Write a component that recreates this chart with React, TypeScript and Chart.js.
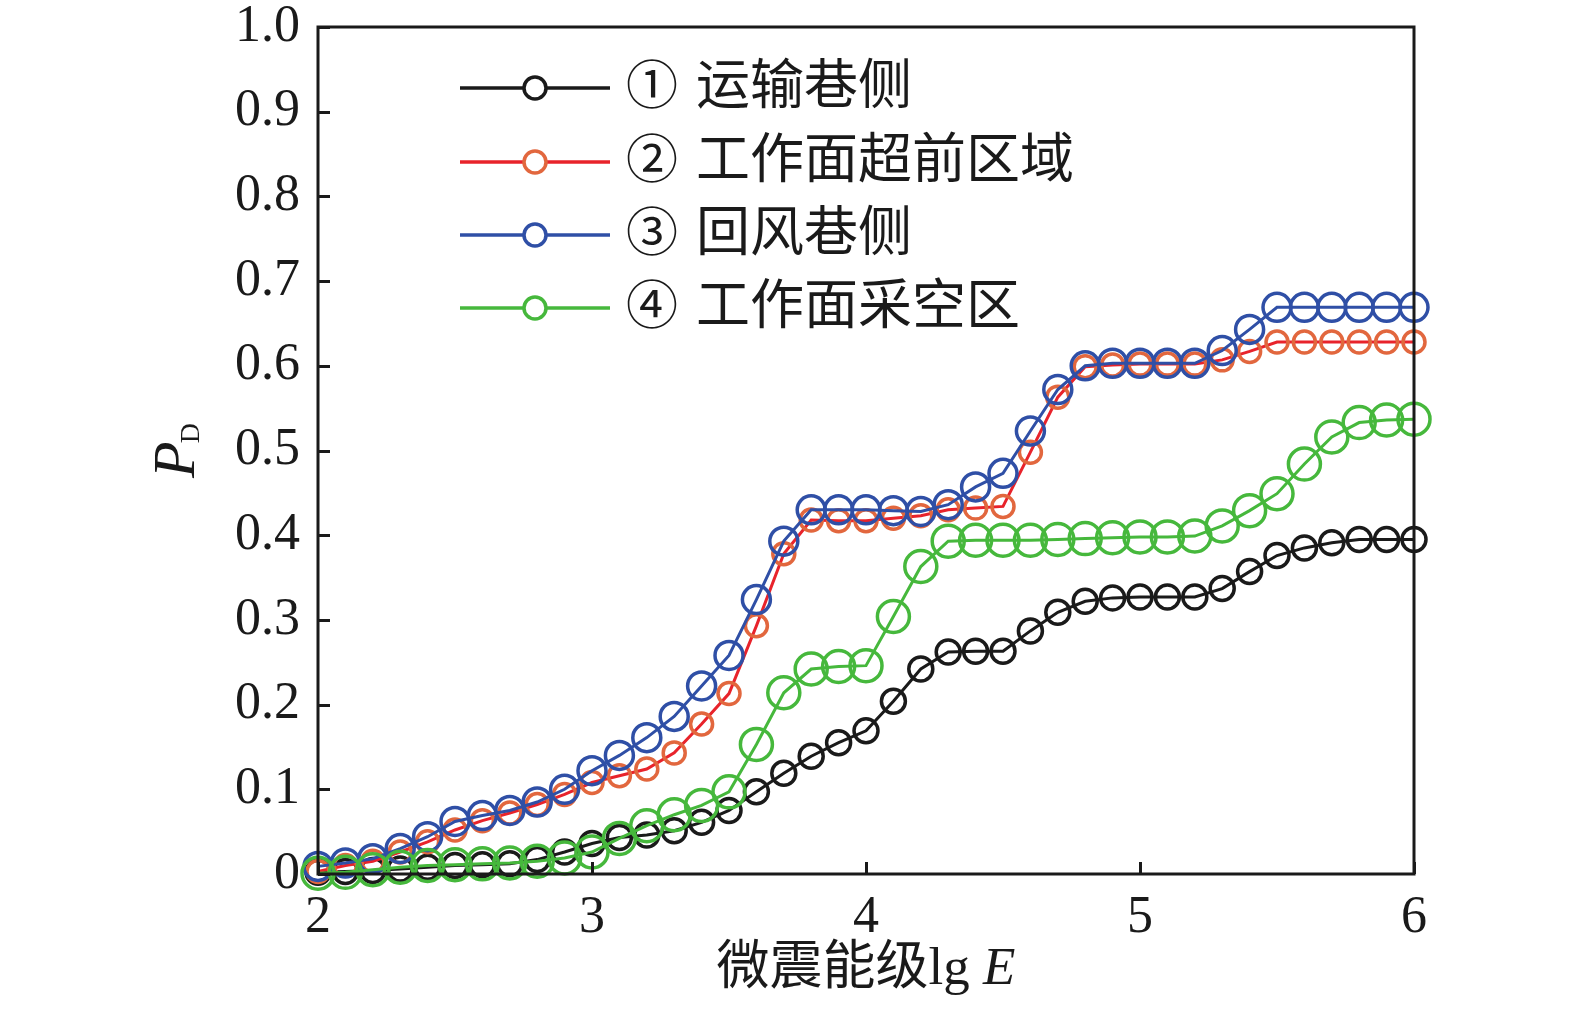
import React, { useEffect, useRef } from 'react';
import { Chart, registerables } from 'chart.js';

Chart.register(...registerables);

// ---- data ----
const lgE = [
  2.0, 2.1, 2.2, 2.3, 2.4, 2.5, 2.6, 2.7, 2.8, 2.9,
  3.0, 3.1, 3.2, 3.3, 3.4, 3.5, 3.6, 3.7, 3.8, 3.9,
  4.0, 4.1, 4.2, 4.3, 4.4, 4.5, 4.6, 4.7, 4.8, 4.9,
  5.0, 5.1, 5.2, 5.3, 5.4, 5.5, 5.6, 5.7, 5.8, 5.9, 6.0,
];

const seriesNames = ['运输巷侧', '工作面超前区域', '回风巷侧', '工作面采空区'];
const seriesMarks = ['①', '②', '③', '④'];

const transportSide = [
  0.002, 0.003, 0.004, 0.006, 0.008, 0.010, 0.011, 0.012, 0.017, 0.026,
  0.036, 0.043, 0.046, 0.051, 0.061, 0.075, 0.097, 0.119, 0.139, 0.155,
  0.169, 0.204, 0.242, 0.262, 0.263, 0.263, 0.287, 0.309, 0.322, 0.326,
  0.327, 0.327, 0.327, 0.337, 0.357, 0.376, 0.385, 0.391, 0.395, 0.395, 0.395,
];

const faceAhead = [
  0.003, 0.010, 0.015, 0.026, 0.038, 0.052, 0.063, 0.072, 0.082, 0.094,
  0.108, 0.116, 0.124, 0.143, 0.177, 0.213, 0.293, 0.378, 0.418, 0.417,
  0.417, 0.420, 0.423, 0.430, 0.432, 0.434, 0.498, 0.563, 0.599, 0.601,
  0.602, 0.602, 0.602, 0.607, 0.617, 0.628, 0.628, 0.628, 0.628, 0.628, 0.628,
];

const returnSide = [
  0.009, 0.013, 0.018, 0.030, 0.044, 0.062, 0.069, 0.075, 0.085, 0.100,
  0.122, 0.140, 0.161, 0.186, 0.222, 0.258, 0.324, 0.393, 0.430, 0.430,
  0.430, 0.429, 0.428, 0.436, 0.457, 0.473, 0.523, 0.572, 0.600, 0.603,
  0.603, 0.603, 0.603, 0.618, 0.643, 0.669, 0.669, 0.669, 0.669, 0.669, 0.669,
];

const goaf = [
  0.001, 0.002, 0.005, 0.008, 0.010, 0.011, 0.012, 0.013, 0.015, 0.019,
  0.026, 0.042, 0.057, 0.070, 0.081, 0.097, 0.153, 0.214, 0.242, 0.245,
  0.246, 0.304, 0.363, 0.393, 0.394, 0.394, 0.394, 0.395, 0.396, 0.397,
  0.398, 0.398, 0.399, 0.411, 0.429, 0.449, 0.484, 0.516, 0.533, 0.536, 0.537,
];

const yTickValues = [0, 0.1, 0.2, 0.3, 0.4, 0.5, 0.6, 0.7, 0.8, 0.9, 1.0];
const yTickLabels = ['0', '0.1', '0.2', '0.3', '0.4', '0.5', '0.6', '0.7', '0.8', '0.9', '1.0'];
const xTickValues = [2, 3, 4, 5, 6];
const xTickLabels = ['2', '3', '4', '5', '6'];

// ---- styles ----
const INK = '#1a1a1a';
const lineColors = ['#1a1a1a', '#e8232b', '#2f4fa6', '#46b83c'];
const markerColors = ['#1a1a1a', '#e2673e', '#2f4fa6', '#46b83c'];
const markerRadii = [12, 11, 14, 16];
const SERIF = '"Liberation Serif", "Noto Sans CJK SC", serif';
const CJK = '"Liberation Serif", "Noto Sans CJK SC", sans-serif';

const decorPlugin = {
  id: 'decor',
  afterDraw(chart: any) {
    const { ctx, chartArea: a, scales } = chart;
    ctx.save();
    // frame
    ctx.strokeStyle = INK;
    ctx.lineWidth = 3;
    ctx.strokeRect(a.left, a.top, a.right - a.left, a.bottom - a.top);
    // inward ticks
    ctx.lineWidth = 3;
    ctx.beginPath();
    yTickValues.forEach((v) => {
      const y = Math.round(scales.y.getPixelForValue(v)) + 0.5;
      ctx.moveTo(a.left, y);
      ctx.lineTo(a.left + 12, y);
    });
    xTickValues.forEach((v) => {
      const x = Math.round(scales.x.getPixelForValue(v)) + 0.5;
      ctx.moveTo(x, a.bottom);
      ctx.lineTo(x, a.bottom - 12);
    });
    ctx.stroke();

    // legend
    const rowY = [88, 162, 235, 308];
    seriesNames.forEach((name, i) => {
      const y = rowY[i];
      ctx.strokeStyle = lineColors[i];
      ctx.lineWidth = 3.5;
      ctx.beginPath();
      ctx.moveTo(460, y);
      ctx.lineTo(610, y);
      ctx.stroke();
      ctx.beginPath();
      ctx.arc(535, y, 11, 0, Math.PI * 2);
      ctx.fillStyle = '#ffffff';
      ctx.fill();
      ctx.strokeStyle = markerColors[i];
      ctx.lineWidth = 3.5;
      ctx.stroke();
      ctx.fillStyle = INK;
      ctx.textBaseline = 'middle';
      ctx.textAlign = 'left';
      ctx.font = `52px ${CJK}`;
      ctx.fillText(seriesMarks[i], 626, y + 2);
      ctx.font = `54px ${CJK}`;
      ctx.fillText(name, 696, y + 2);
    });

    // x title: 微震能级lg E
    ctx.fillStyle = INK;
    ctx.textBaseline = 'middle';
    ctx.textAlign = 'left';
    const part1 = '微震能级lg ';
    const part2 = 'E';
    ctx.font = `53px ${CJK}`;
    const w1 = ctx.measureText(part1).width;
    ctx.font = `italic 53px ${SERIF}`;
    const w2 = ctx.measureText(part2).width;
    const cx = (a.left + a.right) / 2;
    const startX = cx - (w1 + w2) / 2;
    ctx.font = `53px ${CJK}`;
    ctx.fillText(part1, startX, 970);
    ctx.font = `italic 53px ${SERIF}`;
    ctx.fillText(part2, startX + w1, 970);

    // y title: P_D (rotated)
    ctx.save();
    ctx.translate(194, 478);
    ctx.rotate(-Math.PI / 2);
    ctx.textBaseline = 'alphabetic';
    ctx.font = `italic 60px ${SERIF}`;
    ctx.fillText('P', 0, 0);
    const wp = ctx.measureText('P').width;
    ctx.font = `28px ${SERIF}`;
    ctx.fillText('D', wp - 2, 5);
    ctx.restore();

    ctx.restore();
  },
};

export default function App() {
  const canvasRef = useRef<HTMLCanvasElement | null>(null);

  useEffect(() => {
    document.body.style.margin = '0';
    const canvas = canvasRef.current;
    if (!canvas) return;
    const seriesValues = [transportSide, faceAhead, returnSide, goaf];
    const chart = new Chart(canvas, {
      type: 'line',
      data: {
        datasets: seriesValues.map((vals, i) => ({
          label: seriesMarks[i] + ' ' + seriesNames[i],
          data: lgE.map((x, j) => ({ x, y: vals[j] })),
          borderColor: lineColors[i],
          borderWidth: 3,
          pointRadius: markerRadii[i],
          pointHoverRadius: markerRadii[i],
          pointBorderWidth: 3.5,
          pointBorderColor: markerColors[i],
          pointBackgroundColor: 'rgba(0,0,0,0)',
          pointStyle: 'circle',
          tension: 0,
          fill: false,
          clip: false as any,
          order: 4 - i,
        })),
      },
      options: {
        responsive: false,
        animation: false,
        devicePixelRatio: 1,
        layout: { padding: { left: 0, top: 27, right: 161, bottom: 0 } },
        plugins: {
          legend: { display: false },
          tooltip: { enabled: false },
          title: { display: false },
        },
        scales: {
          x: {
            type: 'linear',
            min: 2,
            max: 6,
            grid: { display: false, drawTicks: false },
            border: { display: false },
            afterBuildTicks: (s: any) => {
              s.ticks = xTickValues.map((v) => ({ value: v }));
            },
            afterFit: (s: any) => {
              s.height = 139;
              s.paddingLeft = 0;
              s.paddingRight = 0;
              s.paddingTop = 0;
              s.paddingBottom = 0;
            },
            ticks: {
              padding: 13,
              color: INK,
              font: { family: SERIF, size: 52 },
              maxRotation: 0,
              autoSkip: false,
              callback: (_v: any, i: number) => xTickLabels[i],
            },
          },
          y: {
            type: 'linear',
            min: 0,
            max: 1,
            grid: { display: false, drawTicks: false },
            border: { display: false },
            afterBuildTicks: (s: any) => {
              s.ticks = yTickValues.map((v) => ({ value: v }));
            },
            afterFit: (s: any) => {
              s.width = 318;
              s.paddingLeft = 0;
              s.paddingRight = 0;
              s.paddingTop = 0;
              s.paddingBottom = 0;
            },
            ticks: {
              padding: 18,
              color: INK,
              font: { family: SERIF, size: 52 },
              autoSkip: false,
              callback: (_v: any, i: number) => yTickLabels[i],
            },
          },
        },
      },
      plugins: [decorPlugin],
    });
    return () => chart.destroy();
  }, []);

  return (
    <div style={{ width: 1575, height: 1013, background: '#ffffff' }}>
      <canvas ref={canvasRef} width={1575} height={1013} style={{ display: 'block' }} />
    </div>
  );
}
